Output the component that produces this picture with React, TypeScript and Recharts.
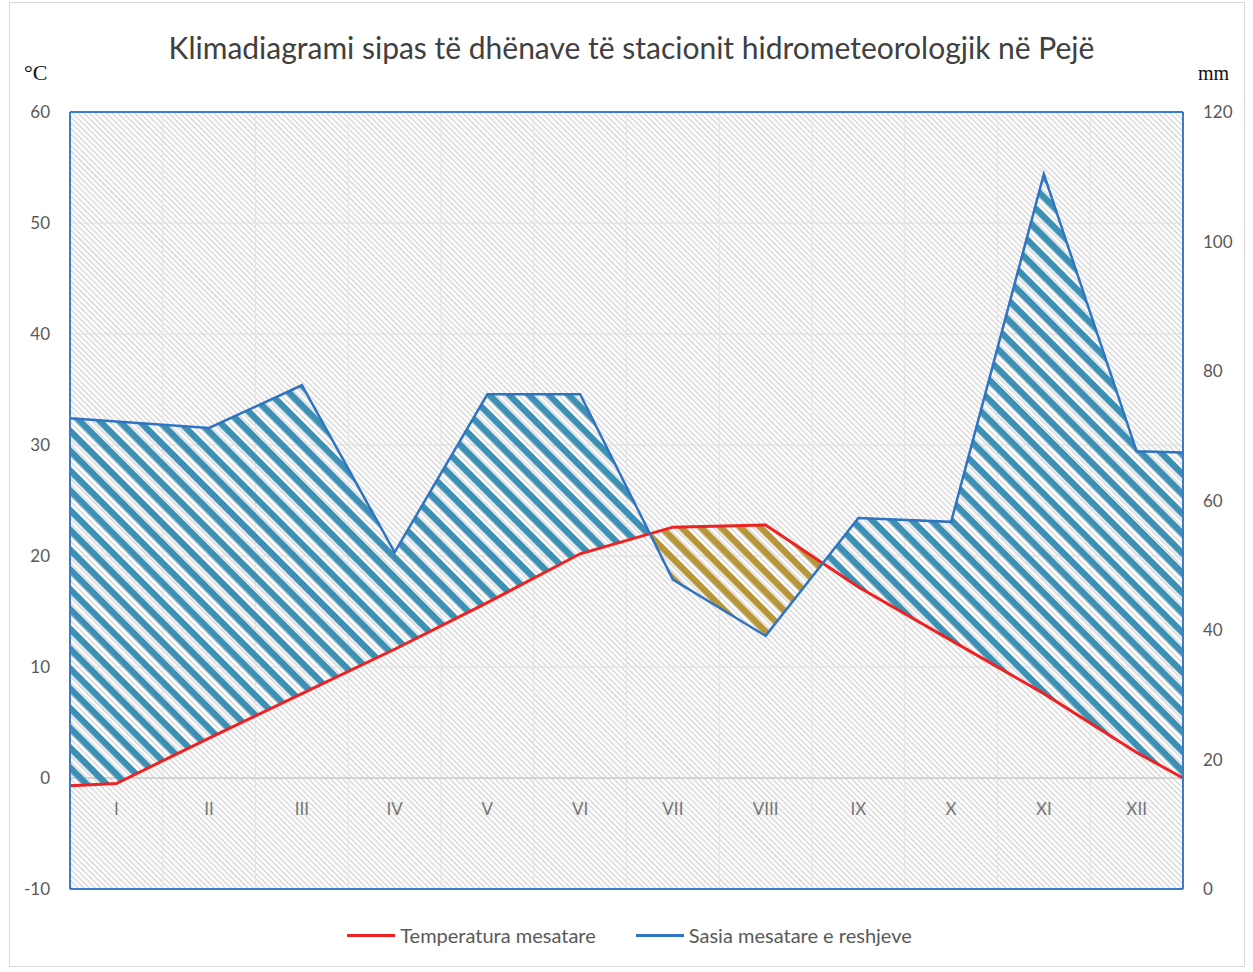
import { ComposedChart, Area, Line, XAxis, YAxis, CartesianGrid, ReferenceLine } from 'recharts';

const monthLabels = ['I', 'II', 'III', 'IV', 'V', 'VI', 'VII', 'VIII', 'IX', 'X', 'XI', 'XII'];
const monthPos = [1, 2, 3, 4, 5, 6, 7, 8, 9, 10, 11, 12];
// rows: left plot edge, the twelve months, right plot edge
const rowPos = [0.5, 1, 2, 3, 4, 5, 6, 7, 8, 9, 10, 11, 12, 12.5];
const temperature = [-0.7, -0.5, 3.6, 7.6, 11.6, 15.8, 20.2, 22.6, 22.8, 17.2, 12.4, 7.6, 2.3, 0];
const precipitation = [72.7, 72.2, 71.2, 77.8, 52.0, 76.4, 76.4, 47.8, 39.1, 57.3, 56.7, 110.4, 67.6, 67.4];
const cellEdges = [1.5, 2.5, 3.5, 4.5, 5.5, 6.5, 7.5, 8.5, 9.5, 10.5, 11.5];
const tempTicks = [-10, 0, 10, 20, 30, 40, 50, 60];
const precTicks = [0, 20, 40, 60, 80, 100, 120];

const series = [
  { name: 'Temperatura mesatare', color: '#ee2222' },
  { name: 'Sasia mesatare e reshjeve', color: '#2f74c2' },
];

const BORDER = '#3a7cc8';
const FONT = 'Lato, "Open Sans", sans-serif';

const tMin = tempTicks[0];
const tMax = tempTicks[tempTicks.length - 1];
const pMin = precTicks[0];
const pMax = precTicks[precTicks.length - 1];
// precipitation expressed on the temperature axis (both axes share the plot height)
const onTempAxis = (mm: number) => tMin + ((mm - pMin) * (tMax - tMin)) / (pMax - pMin);

const data = rowPos.map((pos, i) => ({ pos, temp: temperature[i], prec: precipitation[i] }));

// curve for a range area: fills only where the upper value lies above the base value
function upperOnly(context: any) {
  let pts: number[][] = [];
  let inArea = false;
  return {
    areaStart() {
      inArea = true;
      pts = [];
    },
    areaEnd() {
      inArea = false;
      const n = pts.length / 2;
      if (n < 2) return;
      const top = pts.slice(0, n);
      const base = pts.slice(n).reverse();
      const outline: number[][] = [];
      for (let i = 0; i < n; i++) {
        outline.push([top[i][0], Math.min(top[i][1], base[i][1])]);
        if (i + 1 < n) {
          const d0 = top[i][1] - base[i][1];
          const d1 = top[i + 1][1] - base[i + 1][1];
          if (d0 * d1 < 0) {
            const t = d0 / (d0 - d1);
            outline.push([
              top[i][0] + t * (top[i + 1][0] - top[i][0]),
              top[i][1] + t * (top[i + 1][1] - top[i][1]),
            ]);
          }
        }
      }
      context.moveTo(outline[0][0], outline[0][1]);
      for (let i = 1; i < outline.length; i++) context.lineTo(outline[i][0], outline[i][1]);
      for (let i = n - 1; i >= 0; i--) context.lineTo(base[i][0], base[i][1]);
      context.closePath();
    },
    lineStart() {},
    lineEnd() {},
    point(x: number, y: number) {
      if (inArea) pts.push([x, y]);
    },
  };
}

export default function App() {
  const tickStyle = { fill: '#595959', fontSize: 17, fontFamily: FONT };

  return (
    <div style={{ position: 'absolute', left: 0, top: 0, width: 1253, height: 972, background: '#fff', fontFamily: FONT }}>
      <ComposedChart width={1253} height={972} data={data} margin={{ top: 111, right: 0, bottom: 83, left: 0 }}>
        <defs>
          <pattern id="bgHatch" width="4" height="4" patternUnits="userSpaceOnUse" patternTransform="rotate(45)">
            <rect width="4" height="4" fill="#ffffff" />
            <rect width="4" height="1.3" fill="#d3d3d3" />
          </pattern>
          <pattern id="wetHatch" width="14" height="14" patternUnits="userSpaceOnUse" patternTransform="rotate(45)">
            <rect width="14" height="6.5" fill="#3b90b3" />
          </pattern>
          <pattern id="dryHatch" width="14" height="14" patternUnits="userSpaceOnUse" patternTransform="rotate(45)">
            <rect width="14" height="6.5" fill="#b69638" />
          </pattern>
        </defs>
        <CartesianGrid yAxisId="t" vertical={false} stroke="#dedede" fill="url(#bgHatch)" fillOpacity={1} />
        {cellEdges.map((x) => (
          <ReferenceLine key={x} x={x} yAxisId="t" stroke="#e4e4e4" strokeWidth={1} zIndex={-50} />
        ))}
        <ReferenceLine yAxisId="t" y={0} stroke="#cbcbcb" strokeWidth={1.5} zIndex={-50} />
        <XAxis
          type="number"
          dataKey="pos"
          domain={[0.5, 12.5]}
          ticks={monthPos}
          interval={0}
          tickFormatter={(v: number) => monthLabels[monthPos.indexOf(v)]}
          mirror
          axisLine={{ stroke: BORDER, strokeWidth: 2 }}
          tickLine={false}
          tickSize={0}
          tickMargin={74}
          height={1}
          tick={{ fill: '#767676', fontSize: 17, fontFamily: FONT }}
        />
        <XAxis
          xAxisId="top"
          orientation="top"
          type="number"
          dataKey="pos"
          domain={[0.5, 12.5]}
          tick={false}
          tickLine={false}
          axisLine={{ stroke: BORDER, strokeWidth: 2 }}
          height={1}
        />
        <YAxis
          yAxisId="t"
          domain={[tMin, tMax]}
          ticks={tempTicks}
          interval={0}
          width={70}
          axisLine={{ stroke: BORDER, strokeWidth: 2 }}
          tickLine={false}
          tickSize={0}
          tickMargin={20}
          tick={tickStyle}
        />
        <YAxis
          yAxisId="p"
          orientation="right"
          domain={[pMin, pMax]}
          ticks={precTicks}
          interval={0}
          width={70}
          axisLine={{ stroke: BORDER, strokeWidth: 2 }}
          tickLine={false}
          tickSize={0}
          tickMargin={20}
          tick={tickStyle}
        />
        <Area
          yAxisId="t"
          dataKey={(d: any) => [d.temp, onTempAxis(d.prec)]}
          type={upperOnly as any}
          fill="url(#wetHatch)"
          fillOpacity={1}
          stroke="none"
          legendType="none"
          isAnimationActive={false}
        />
        <Area
          yAxisId="t"
          dataKey={(d: any) => [onTempAxis(d.prec), d.temp]}
          type={upperOnly as any}
          fill="url(#dryHatch)"
          fillOpacity={1}
          stroke="none"
          legendType="none"
          isAnimationActive={false}
        />
        <Line
          yAxisId="t"
          dataKey="temp"
          name={series[0].name}
          type="linear"
          stroke={series[0].color}
          strokeWidth={3}
          dot={false}
          isAnimationActive={false}
        />
        <Line
          yAxisId="p"
          dataKey="prec"
          name={series[1].name}
          type="linear"
          stroke={series[1].color}
          strokeWidth={2.5}
          dot={false}
          isAnimationActive={false}
        />
      </ComposedChart>

      <div style={{ position: 'absolute', left: 9, top: 2, width: 1236, height: 965, border: '1px solid #d9d9d9', boxSizing: 'border-box', pointerEvents: 'none' }} />
      <div style={{ position: 'absolute', left: 10, right: 0, top: 28, textAlign: 'center', fontSize: 30, color: '#404040', lineHeight: '38px' }}>
        Klimadiagrami sipas të dhënave të stacionit hidrometeorologjik në Pejë
      </div>
      <div style={{ position: 'absolute', left: 24, top: 60, fontFamily: '"Liberation Serif", serif', fontSize: 22, color: '#111' }}>°C</div>
      <div style={{ position: 'absolute', left: 1198, top: 62, fontFamily: '"Liberation Serif", serif', fontSize: 20, color: '#111' }}>mm</div>
      <div style={{ position: 'absolute', left: 6, right: 0, top: 923, display: 'flex', justifyContent: 'center', gap: 40, fontSize: 20, color: '#595959' }}>
        {series.map((s) => (
          <div key={s.name} style={{ display: 'flex', alignItems: 'center', gap: 5 }}>
            <span style={{ display: 'inline-block', width: 48, height: 3, background: s.color }} />
            <span>{s.name}</span>
          </div>
        ))}
      </div>
    </div>
  );
}
